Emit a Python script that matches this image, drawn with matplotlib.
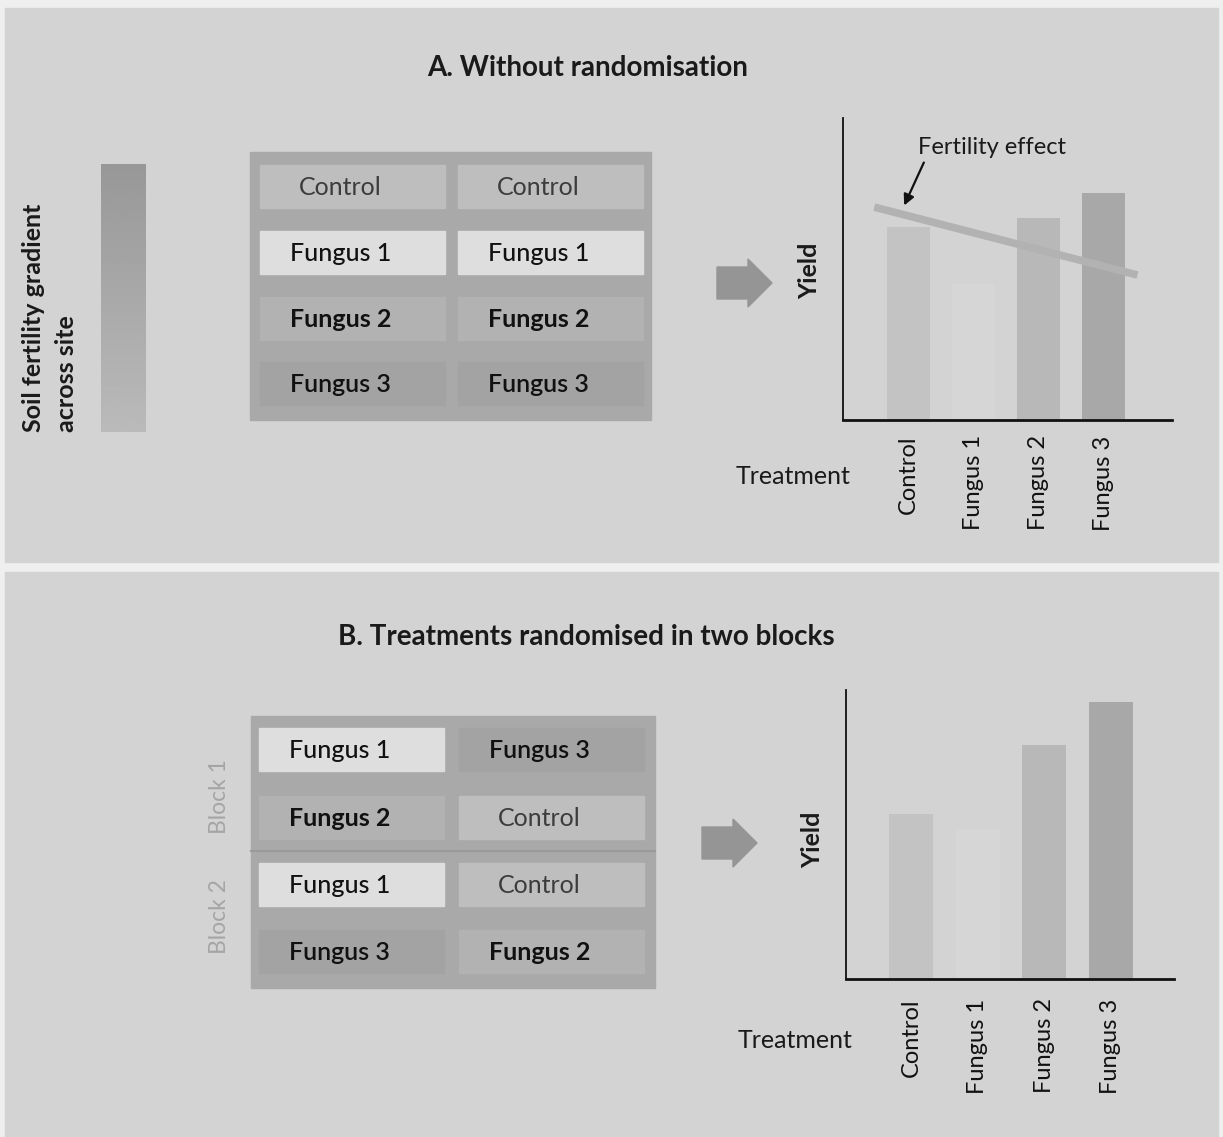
import numpy as np
import matplotlib
matplotlib.use('Agg')
import matplotlib.pyplot as plt
from matplotlib.patches import Rectangle, Polygon

plt.rcParams['font.family'] = ['Lato', 'DejaVu Sans']

# chart data
treatments = ['Control', 'Fungus 1', 'Fungus 2', 'Fungus 3']
yield_a = [0.64, 0.45, 0.67, 0.75]
yield_b = [0.57, 0.52, 0.81, 0.96]
fertility_x = [-0.52, 3.52]
fertility_y = [0.705, 0.48]
layout_a = [['Control', 'Control'], ['Fungus 1', 'Fungus 1'],
            ['Fungus 2', 'Fungus 2'], ['Fungus 3', 'Fungus 3']]
layout_b = [['Fungus 1', 'Fungus 3'], ['Fungus 2', 'Control'],
            ['Fungus 1', 'Control'], ['Fungus 3', 'Fungus 2']]
blocks = ['Block 1', 'Block 2']

# greys used for each treatment
cell_col = {'Control': '#bebebe', 'Fungus 1': '#dedede', 'Fungus 2': '#b2b2b2', 'Fungus 3': '#a3a3a3'}
cell_txt = {'Control': ('#3c3c3c', 'normal'), 'Fungus 1': ('#111111', 'medium'),
            'Fungus 2': ('#111111', 'bold'), 'Fungus 3': ('#111111', 'semibold')}
bar_col = {'Control': '#c3c3c3', 'Fungus 1': '#d6d6d6', 'Fungus 2': '#b8b8b8', 'Fungus 3': '#a8a8a8'}

W, H = 1223, 1137
fig = plt.figure(figsize=(W / 100, H / 100), dpi=100, facecolor='#efefef')
bg = fig.add_axes([0, 0, 1, 1])
bg.set_xlim(0, W)
bg.set_ylim(H, 0)
bg.axis('off')

panel = '#d3d3d3'
bg.add_patch(Rectangle((5, 8), 1213, 554, color=panel, zorder=0))
bg.add_patch(Rectangle((5, 572), 1213, 565, color=panel, zorder=0))

bg.text(588, 68, 'A. Without randomisation', ha='center', va='center',
        fontsize=20, fontweight='bold', color='#1a1a1a')
bg.text(586, 637, 'B. Treatments randomised in two blocks', ha='center', va='center',
        fontsize=20, fontweight='bold', color='#1a1a1a')

# fertility gradient bar, darker at the top
grad = np.linspace(0, 1, 200).reshape(-1, 1)
bg.imshow(grad, extent=(101, 146, 432, 164), cmap='gray', vmin=-4.4, vmax=3.0,
          aspect='auto', zorder=1)
bg.text(34, 432, 'Soil fertility gradient', rotation=90, ha='center', va='bottom',
        fontsize=18, fontweight='bold', color='#1a1a1a')
bg.text(67, 432, 'across site', rotation=90, ha='center', va='bottom',
        fontsize=18, fontweight='bold', color='#1a1a1a')


def draw_grid(layout, x0, y0, w, h, cols_x, rows_y, cw, ch):
    bg.add_patch(Rectangle((x0, y0), w, h, color='#a9a9a9', zorder=1))
    for r, row in enumerate(layout):
        for c, name in enumerate(row):
            cx, cy = cols_x[c], rows_y[r]
            bg.add_patch(Rectangle((cx, cy), cw, ch, color=cell_col[name], zorder=2))
            col, wt = cell_txt[name]
            bg.text(cx + cw / 2 - 12, cy + ch / 2 + 1, name, ha='center', va='center',
                    fontsize=18, color=col, fontweight=wt, zorder=3)


draw_grid(layout_a, 250, 152, 401, 268, [260, 458], [165, 231, 297, 362], 185, 43)
draw_grid(layout_b, 251, 716, 404, 272, [259, 459], [728, 796, 863, 930], 185, 43)
bg.plot([251, 655], [851, 851], color='#9a9a9a', lw=1.5, zorder=2)
for lab, yc in zip(blocks, [797, 917]):
    bg.text(220, yc, lab, rotation=90, ha='center', va='center', fontsize=16.5,
            color='#a5a5a5')


def draw_arrow(x0, yc):
    pts = [(x0, yc - 16), (x0 + 31, yc - 16), (x0 + 31, yc - 24), (x0 + 55, yc),
           (x0 + 31, yc + 24), (x0 + 31, yc + 16), (x0, yc + 16)]
    bg.add_patch(Polygon(pts, closed=True, color='#959595', zorder=2))


draw_arrow(717, 283)
draw_arrow(702, 843)


def bar_chart(left, right, top, bottom, xlo, xhi, values, pad):
    ax = fig.add_axes([left / W, 1 - bottom / H, (right - left) / W, (bottom - top) / H])
    ax.patch.set_alpha(0)
    x = np.arange(len(treatments))
    ax.bar(x, values, width=0.66, color=[bar_col[t] for t in treatments], zorder=1)
    ax.set_xlim(xlo, xhi)
    ax.set_ylim(0, 1)
    for s in ['top', 'right']:
        ax.spines[s].set_visible(False)
    ax.spines['left'].set_linewidth(1.3)
    ax.spines['bottom'].set_linewidth(2)
    ax.spines['left'].set_color('#111111')
    ax.spines['bottom'].set_color('#111111')
    ax.set_yticks([])
    ax.set_xticks(x)
    ax.set_xticklabels(treatments, rotation=90, fontsize=17, color='#111111')
    ax.tick_params(axis='x', length=0, pad=pad)
    return ax


ax_a = bar_chart(843, 1172, 118, 420, -1.0, 4.05, yield_a, 11)
ax_a.plot(fertility_x, fertility_y, color='#b2b2b2', lw=5.5, solid_capstyle='butt', zorder=2)
bg.text(810, 271, 'Yield', rotation=90, ha='center', va='center', fontsize=18,
        fontweight='bold', color='#1a1a1a')
bg.text(793, 477, 'Treatment', ha='center', va='center', fontsize=18, color='#1a1a1a')
bg.text(992, 147, 'Fertility effect', ha='center', va='center', fontsize=17, color='#1a1a1a')
bg.annotate('', xy=(903, 208), xytext=(925, 160),
            arrowprops=dict(arrowstyle='-|>', color='#111111', lw=1.6, mutation_scale=16))

ax_b = bar_chart(846, 1174, 690, 979, -0.98, 3.95, yield_b, 14)
bg.text(813, 840, 'Yield', rotation=90, ha='center', va='center', fontsize=18,
        fontweight='bold', color='#1a1a1a')
bg.text(795, 1040, 'Treatment', ha='center', va='center', fontsize=18, color='#1a1a1a')

fig.savefig('out.png', dpi=100, facecolor=fig.get_facecolor())
